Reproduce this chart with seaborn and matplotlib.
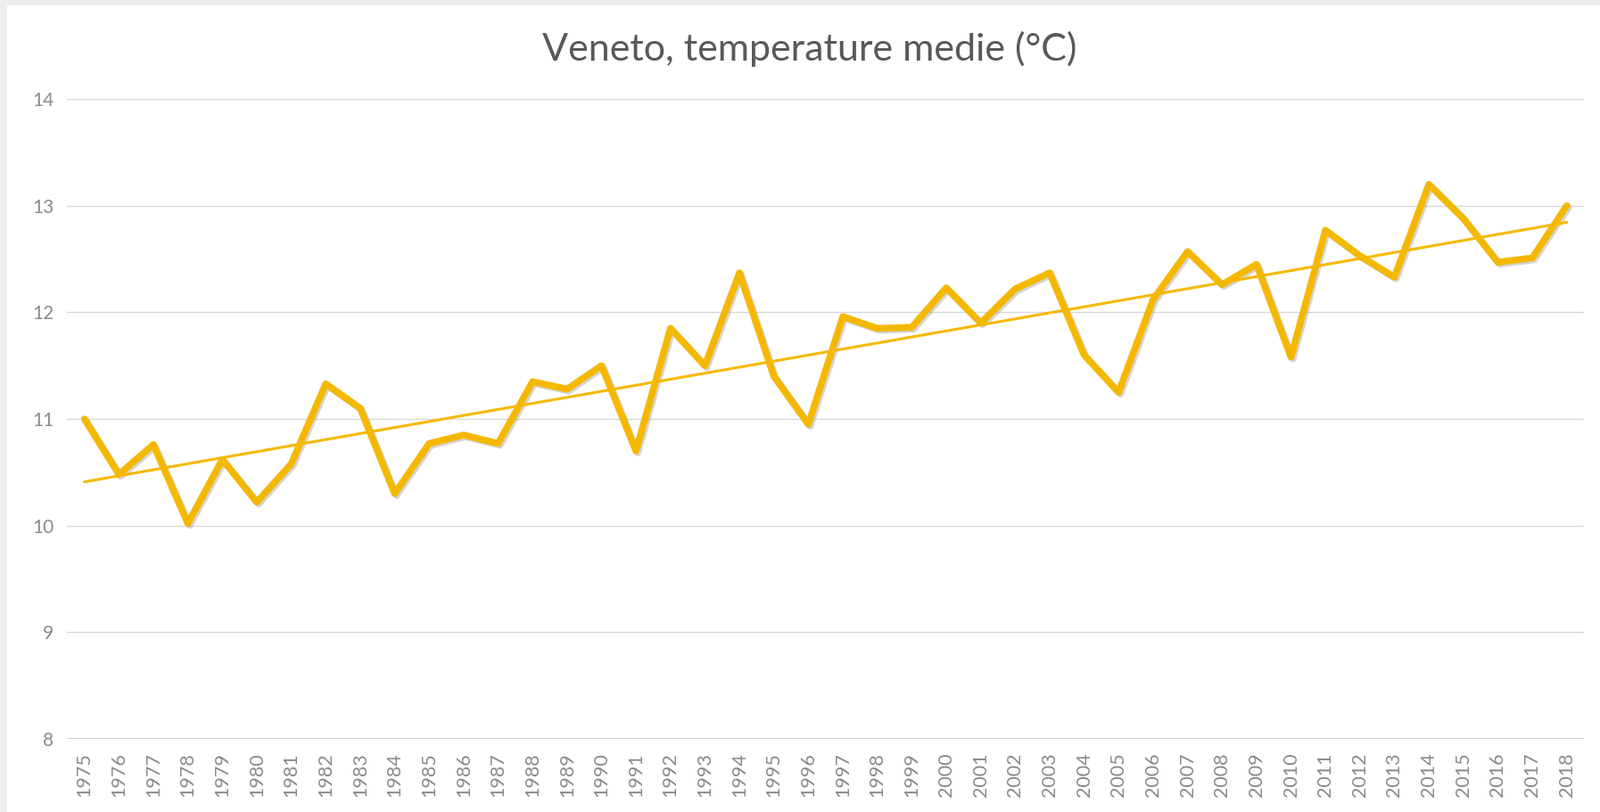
import numpy as np
import pandas as pd
import matplotlib
matplotlib.use('Agg')
import matplotlib.pyplot as plt
import matplotlib.patheffects as pe
from matplotlib.patches import Rectangle
import seaborn as sns

anni = list(range(1975, 2019))
temperature = [11.0, 10.48, 10.76, 10.02, 10.62, 10.22, 10.58, 11.33, 11.1, 10.3,
               10.77, 10.85, 10.77, 11.35, 11.28, 11.5, 10.7, 11.85, 11.5, 12.37,
               11.4, 10.95, 11.96, 11.85, 11.86, 12.23, 11.9, 12.22, 12.37, 11.6,
               11.25, 12.12, 12.57, 12.26, 12.45, 11.58, 12.77, 12.53, 12.33, 13.2,
               12.88, 12.47, 12.51, 13.0]
y_ticks = [8, 9, 10, 11, 12, 13, 14]

df = pd.DataFrame({'anno': anni, 'temp': temperature})

sns.set_style('white')
plt.rcParams['font.family'] = ['Lato', 'DejaVu Sans']

fig = plt.figure(figsize=(17.94, 9.11), dpi=100, facecolor='#eeeeee')
bg = Rectangle((8 / 1794, 0), 1, 1 - 6 / 911, transform=fig.transFigure,
               facecolor='white', edgecolor='none', zorder=-10)
fig.add_artist(bg)
ax = fig.add_axes([0.042, 0.090, 0.948, 0.788])
ax.set_zorder(1)
ax.set_facecolor('white')

gold = '#F5B800'
sns.lineplot(data=df, x='anno', y='temp', ax=ax, color=gold, linewidth=5.5,
             path_effects=[pe.SimpleLineShadow(offset=(1.5, -1.5), shadow_color='#888888', alpha=0.35),
                           pe.Normal()], zorder=3)
sns.regplot(data=df, x='anno', y='temp', ax=ax, scatter=False, ci=None,
            line_kws={'color': gold, 'linewidth': 2.2, 'zorder': 4}, truncate=True)

ax.set_xlim(1974.5, 2018.5)
ax.set_ylim(8, 14)
ax.set_yticks(y_ticks)
ax.set_xticks(anni)
ax.set_xticklabels([str(a) for a in anni], rotation=90)
ax.tick_params(axis='y', length=0, pad=11, labelsize=15, labelcolor='#8a8a8a')
ax.tick_params(axis='x', length=0, pad=11, labelsize=15.5, labelcolor='#8a8a8a')
ax.grid(axis='y', color='#d9d9d9', linewidth=1.0)
ax.grid(axis='x', visible=False)
ax.axhline(8, color='#d0d0d0', linewidth=2.2, zorder=2)
for s in ax.spines.values():
    s.set_visible(False)
ax.set_xlabel('')
ax.set_ylabel('')

fig.text(0.506, 0.94, 'Veneto, temperature medie (°C)', ha='center', va='center',
         fontsize=31, color='#595959')

plt.savefig('out.png', dpi=100, facecolor=fig.get_facecolor())
